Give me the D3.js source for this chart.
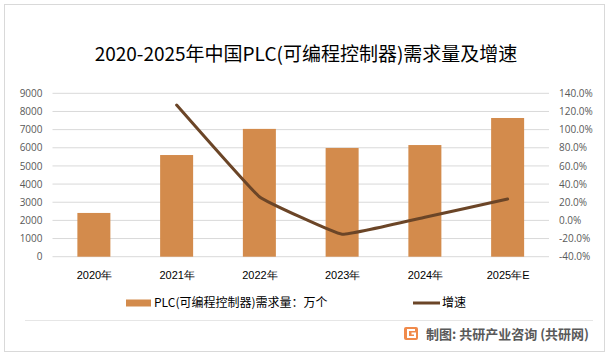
<!DOCTYPE html>
<html><head><meta charset="utf-8">
<script src="https://cdn.jsdelivr.net/npm/d3@7"></script>
<style>body{margin:0;background:#fff;}svg{display:block;font-family:"Noto Sans CJK SC","Noto Sans",sans-serif;}</style>
</head><body><svg id="c" width="610" height="357"></svg>
<script>
const categories = ["2020年","2021年","2022年","2023年","2024年","2025年E"];
const demand = [2410, 5600, 7040, 5990, 6150, 7640];
const growth = [null, 127.1, 26.1, -15.3, 3.4, 23.5];
const leftTicks = [0,1000,2000,3000,4000,5000,6000,7000,8000,9000];
const rightTicks = [-40,-20,0,20,40,60,80,100,120,140];
const title = "2020-2025年中国PLC(可编程控制器)需求量及增速";
const seriesNames = ["PLC(可编程控制器)需求量：万个","增速"];
const footer = "制图: 共研产业咨询 (共研网)";

const svg = d3.select("#c");
const plot={l:52.5,r:549,t:93.3,b:256.7};
svg.append("rect").attr("x",4.5).attr("y",4.5).attr("width",600).attr("height",347).attr("fill","#fff").attr("stroke","#d9d9d9");

svg.append("text").attr("x",306).attr("y",61).attr("text-anchor","middle").attr("font-size",19).attr("fill","#000").text(title);

const xc=d3.scalePoint().domain(categories).range([plot.l,plot.r]).padding(0.5);
const yL=d3.scaleLinear().domain([0,9000]).range([plot.b,plot.t]);
const yR=d3.scaleLinear().domain([-40,140]).range([plot.b,plot.t]);

svg.append("g").selectAll("line").data(leftTicks).join("line")
 .attr("x1",plot.l).attr("x2",plot.r).attr("y1",d=>yL(d)).attr("y2",d=>yL(d))
 .attr("stroke","#d9d9d9").attr("stroke-width",1);

const axL=svg.append("g").attr("transform",`translate(${plot.l-10},0)`)
 .call(d3.axisLeft(yL).tickValues(leftTicks).tickSize(0).tickPadding(0).tickFormat(d3.format("d")));
axL.select(".domain").remove();
axL.selectAll("text").attr("font-size",10).attr("fill","#595959").attr("font-family","'Open Sans','Noto Sans',sans-serif");
const axR=svg.append("g").attr("transform",`translate(${plot.r+10},0)`)
 .call(d3.axisRight(yR).tickValues(rightTicks).tickSize(0).tickPadding(0).tickFormat(d=>d.toFixed(1)+"%"));
axR.select(".domain").remove();
axR.selectAll("text").attr("font-size",10).attr("fill","#595959").attr("font-family","'Open Sans','Noto Sans',sans-serif");
const axB=svg.append("g").attr("transform",`translate(0,${plot.b+14})`)
 .call(d3.axisBottom(xc).tickSize(0).tickPadding(0));
axB.select(".domain").remove();
axB.selectAll("text").attr("font-size",11).attr("fill","#000");

const bw = 33;
svg.append("g").selectAll("rect").data(demand).join("rect")
 .attr("x",(d,i)=>xc(categories[i])-bw/2).attr("width",bw)
 .attr("y",d=>yL(d)).attr("height",d=>yL(0)-yL(d)).attr("fill","#d38b4c");

const pts=growth.map((g,i)=>({c:categories[i],g})).filter(d=>d.g!==null);
svg.append("path").datum(pts)
 .attr("d",d3.line().x(d=>xc(d.c)).y(d=>yR(d.g)).curve(d3.curveCardinal.tension(0.75)))
 .attr("fill","none").attr("stroke","#6b4527").attr("stroke-width",3).attr("stroke-linecap","round");

const ly=303;
svg.append("rect").attr("x",126).attr("y",ly-3.5).attr("width",25).attr("height",7).attr("fill","#d38b4c");
svg.append("text").attr("x",154).attr("y",ly).attr("dy","0.35em").attr("font-size",12).attr("fill","#000").text(seriesNames[0]);
svg.append("line").attr("x1",413).attr("x2",440).attr("y1",ly).attr("y2",ly).attr("stroke","#6b4527").attr("stroke-width",3);
svg.append("text").attr("x",442).attr("y",ly).attr("dy","0.35em").attr("font-size",12).attr("fill","#000").text(seriesNames[1]);

svg.append("line").attr("x1",25).attr("x2",593).attr("y1",320.5).attr("y2",320.5).attr("stroke","#e6e6e6");
const lg=svg.append("g").attr("transform","translate(404,327)");
lg.append("rect").attr("width",14).attr("height",13).attr("rx",2).attr("fill","#f08a4b");
lg.append("path").attr("d","M11,3 H4 V10 H11 V6.5 H7.5").attr("fill","none").attr("stroke","#fff").attr("stroke-width",2);
svg.append("text").attr("x",426).attr("y",334).attr("dy","0.35em").attr("font-size",13).attr("font-weight","bold").attr("fill","#595959").text(footer);
</script></body></html>
